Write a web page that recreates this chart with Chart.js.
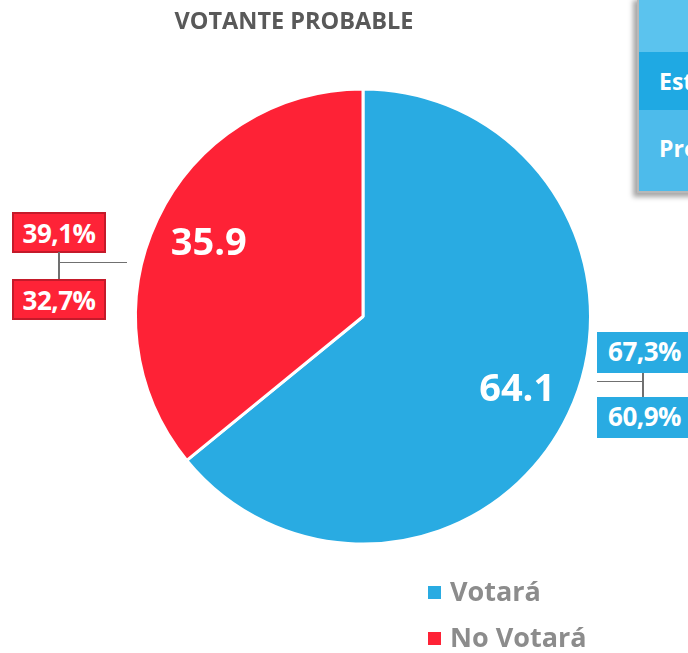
<!DOCTYPE html>
<html>
<head>
<meta charset="utf-8">
<script src="https://cdn.jsdelivr.net/npm/chart.js@4"></script>
<style>
  body { margin: 0; background: white; font-family: "Open Sans", sans-serif; }
  #wrap { position: relative; width: 688px; height: 653px; overflow: hidden; }
  #chart { position: absolute; left: 0; top: 0; }
  #title { position: absolute; left: 94px; width: 400px; top: 4px; text-align: center; font-weight: bold; font-size: 23.5px; color: #595959; }
  .box { position: absolute; height: 41px; line-height: 39px; font-size: 26px; font-weight: bold; color: white; text-align: center; box-sizing: border-box; letter-spacing: -0.5px; }
  .red { background: #fe2337; border: 2px solid #c41a2a; }
  .blue { background: #29abe2; }
  .ln { position: absolute; background: #707070; }
  #panel { position: absolute; left: 637px; top: -4px; width: 80px; height: 193px; border: 2px solid #b8b8b8; box-shadow: -4px 4px 5px rgba(0,0,0,0.35); overflow: hidden; }
  #panel div { height: 56px; color: white; font-weight: bold; font-size: 23px; padding-left: 20px; box-sizing: border-box; }
  #legend { position: absolute; left: 428px; top: 569px; }
  #legend .item { height: 46px; line-height: 44px; font-size: 27px; font-weight: bold; color: #8c8c8c; }
  #legend .sw { display: inline-block; width: 13px; height: 13px; margin-right: 9px; vertical-align: 2px; }
</style>
</head>
<body>
<div id="wrap">
  <canvas id="chart" width="688" height="653"></canvas>
  <div id="title">VOTANTE PROBABLE</div>
  <div id="panel">
    <div style="height:54px;background:#5bc3ee"></div>
    <div style="height:58px;line-height:58px;background:#1fa9e3">Est</div>
    <div style="height:81px;line-height:76px;background:#4dbbeb">Pro</div>
  </div>
  <div id="extras"></div>
  <div id="legend"></div>
</div>
<script>
const categories = ["Votará", "No Votará"]
const values = [64.1, 35.9]
const colors = ["#29abe2", "#fe2236"]
// rangos superior / inferior de cada categoria
const upperLabels = ["67,3%", "39,1%"]
const lowerLabels = ["60,9%", "32,7%"]

const chartCanvas = document.getElementById("chart")

const valueLabels = {
  id: "valueLabels",
  afterDatasetsDraw(chart) {
    const ctx = chart.ctx
    const meta = chart.getDatasetMeta(0)
    ctx.save()
    ctx.fillStyle = "white"
    ctx.font = "bold 38px 'Open Sans', sans-serif"
    ctx.textAlign = "center"
    ctx.textBaseline = "middle"
    meta.data.forEach((arc, i) => {
      const mid = (arc.startAngle + arc.endAngle) / 2
      const r = arc.outerRadius * 0.75
      const x = arc.x + Math.cos(mid) * r
      const y = arc.y + Math.sin(mid) * r
      ctx.fillText(values[i].toFixed(1), x, y + 1)
    })
    ctx.restore()
  }
}

const myChart = new Chart(chartCanvas, {
  type: "pie",
  data: {
    labels: categories,
    datasets: [{
      data: values,
      backgroundColor: colors,
      borderColor: "white",
      borderWidth: 3
    }]
  },
  options: {
    responsive: false,
    animation: false,
    layout: { padding: { left: 134, right: 96, top: 86, bottom: 106 } },
    plugins: {
      legend: { display: false },
      tooltip: { enabled: false }
    }
  },
  plugins: [valueLabels]
})

// cajas de rango (izquierda: No Votará, derecha: Votará)
const extras = document.getElementById("extras")
let html = ""
html += `<div class="box red" style="left:12px;top:212px;width:94px">${upperLabels[1]}</div>`
html += `<div class="box red" style="left:12px;top:279px;width:94px">${lowerLabels[1]}</div>`
html += `<div class="ln" style="left:58px;top:252px;width:2px;height:27px"></div>`
html += `<div class="ln" style="left:58px;top:262px;width:69px;height:1px"></div>`
html += `<div class="box blue" style="left:597px;top:332px;width:95px">${upperLabels[0]}</div>`
html += `<div class="box blue" style="left:597px;top:397px;width:95px">${lowerLabels[0]}</div>`
html += `<div class="ln" style="left:642px;top:373px;width:2px;height:24px"></div>`
html += `<div class="ln" style="left:597px;top:381px;width:46px;height:1px"></div>`
extras.innerHTML = html

const legend = document.getElementById("legend")
legend.innerHTML = categories.map((c, i) =>
  `<div class="item"><span class="sw" style="background:${colors[i]}"></span>${c}</div>`
).join("")
</script>
</body>
</html>
